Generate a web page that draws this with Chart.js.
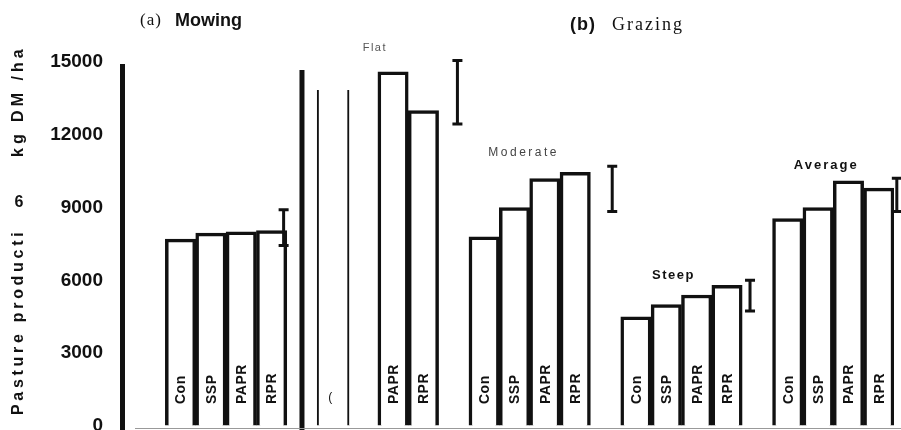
<!DOCTYPE html>
<html>
<head>
<meta charset="utf-8">
<script src="https://cdn.jsdelivr.net/npm/chart.js@4.4.1/dist/chart.umd.min.js"></script>
<style>
  html, body { margin: 0; padding: 0; background: #fff; }
  #wrap { width: 901px; height: 430px; position: relative; }
</style>
</head>
<body>
<div id="wrap"><canvas id="chart"></canvas></div>
<script>
const treatments = ['Con', 'SSP', 'PAPR', 'RPR'];
const groups = ['Mowing', 'Flat', 'Moderate', 'Steep', 'Average'];

const mowing = [7700, 7950, 8000, 8050];
const flat = [13850, 13850, 14600, 13000];
const moderate = [7800, 9000, 10200, 10450];
const steep = [4500, 5000, 5400, 5800];
const average = [8550, 9000, 10100, 9800];

// LSD bars, top and bottom value for each group
const lsdTop = [8950, 15100, 10750, 6050, 10250];
const lsdBottom = [7400, 12400, 8800, 4700, 8800];

const yTicks = [0, 3000, 6000, 9000, 12000, 15000];

// text written inside the bars (flat Con / SSP lost their labels in the print)
const barNames = [treatments, ['(', '', 'PAPR', 'RPR'], treatments, treatments, treatments];

const groupValues = [mowing, flat, moderate, steep, average];

const ink = '#111';
const sans = '"Liberation Sans", Arial, sans-serif';
const serif = '"Liberation Serif", "Times New Roman", serif';

// one empty slot in front of every group
const labels = [];
const values = [];
const barText = [];
groups.forEach((g, gi) => {
  labels.push('');
  values.push(null);
  barText.push('');
  treatments.forEach((t, ti) => {
    labels.push(t);
    values.push(groupValues[gi][ti]);
    barText.push(barNames[gi][ti]);
  });
});

// flat Con and SSP only show their sides
const sideOnly = { 6: { left: 2, right: 0, top: 0, bottom: 0 }, 7: { left: 2, right: 0, top: 0, bottom: 0 } };

const groupLabelStyle = [
  null,
  { font: '11px ' + sans, color: '#555', spacing: '1.5px', dx: -3, y: 48 },
  { font: '12px ' + sans, color: '#444', spacing: '2.5px', dx: -6, y: 153 },
  { font: 'bold 13px ' + sans, color: ink, spacing: '1.5px', dx: -8, y: 275 },
  { font: 'bold 13px ' + sans, color: ink, spacing: '2px', dx: -7, y: 165 }
];
const lsdDx = [12, 34, 37, 23, 18];

function text(ctx, str, x, y, font, opts) {
  opts = opts || {};
  ctx.save();
  ctx.font = font;
  ctx.fillStyle = opts.color || ink;
  ctx.letterSpacing = opts.spacing || '0px';
  ctx.textAlign = opts.align || 'left';
  ctx.textBaseline = opts.baseline || 'middle';
  ctx.translate(x, y);
  if (opts.rotate) ctx.rotate(opts.rotate);
  ctx.fillText(str, 0, 0);
  ctx.restore();
}

const decorations = {
  id: 'decorations',
  afterDatasetsDraw(chart) {
    const ctx = chart.ctx;
    const x = chart.scales.x;
    const y = chart.scales.y;
    const area = chart.chartArea;

    // axis lines of panel (a) and panel (b)
    ctx.save();
    ctx.fillStyle = ink;
    ctx.fillRect(area.left - 15, area.top + 2, 5, 430 - area.top);
    ctx.fillRect(x.getPixelForValue(5) - 2.5, area.top + 8, 5, 430 - area.top);
    ctx.strokeStyle = '#999';
    ctx.lineWidth = 1;
    ctx.beginPath();
    ctx.moveTo(area.left, 428.5);
    ctx.lineTo(chart.width, 428.5);
    ctx.stroke();
    ctx.restore();

    // LSD bars
    groups.forEach((g, gi) => {
      const rpr = gi * 5 + 4;
      const px = x.getPixelForValue(rpr) + lsdDx[gi];
      const top = y.getPixelForValue(lsdTop[gi]);
      const bot = y.getPixelForValue(lsdBottom[gi]);
      ctx.save();
      ctx.strokeStyle = ink;
      ctx.lineWidth = 3;
      ctx.beginPath();
      ctx.moveTo(px, top);
      ctx.lineTo(px, bot);
      ctx.moveTo(px - 5, top + 1);
      ctx.lineTo(px + 5, top + 1);
      ctx.moveTo(px - 5, bot - 1);
      ctx.lineTo(px + 5, bot - 1);
      ctx.stroke();
      ctx.restore();
    });

    // names inside the bars
    barText.forEach((t, i) => {
      if (!t) return;
      const bx = x.getPixelForValue(i);
      if (t === '(') {
        text(ctx, t, bx - 2, 398, '12px ' + sans, { align: 'center' });
        return;
      }
      text(ctx, t, bx + 1, 404, 'bold 14px ' + sans, { rotate: -Math.PI / 2, spacing: '0.5px' });
    });

    // group names
    groups.forEach((g, gi) => {
      const st = groupLabelStyle[gi];
      if (!st) return;
      const cx = (x.getPixelForValue(gi * 5 + 2) + x.getPixelForValue(gi * 5 + 3)) / 2;
      text(ctx, g, cx + st.dx, st.y, st.font, { color: st.color, spacing: st.spacing, align: 'center' });
    });

    // panel titles
    text(ctx, '(a)', 140, 21, '17px ' + serif, { spacing: '1px' });
    text(ctx, 'Mowing', 175, 21, 'bold 18px ' + sans);
    text(ctx, '(b)', 570, 25, 'bold 18px ' + sans, { spacing: '1px' });
    text(ctx, 'Grazing', 612, 25, '18px ' + serif, { spacing: '2px' });

    // y axis title, as printed
    text(ctx, 'Pasture producti', 19, 415, 'bold 16px ' + sans, { rotate: -Math.PI / 2, spacing: '3.7px' });
    text(ctx, '6', 19, 203, 'bold 16px ' + sans, { align: 'center' });
    text(ctx, 'kg DM /ha', 19, 157, 'bold 16px ' + sans, { rotate: -Math.PI / 2, spacing: '4px' });
  }
};

new Chart(document.getElementById('chart'), {
  type: 'bar',
  data: {
    labels: labels,
    datasets: [{
      data: values,
      backgroundColor: '#fff',
      borderColor: ink,
      borderWidth: ctx => sideOnly[ctx.dataIndex] || 3.5,
      barPercentage: 1,
      categoryPercentage: 1
    }]
  },
  options: {
    responsive: true,
    maintainAspectRatio: false,
    animation: false,
    devicePixelRatio: 1,
    layout: { padding: { top: 62, bottom: 4, right: 7, left: 0 } },
    plugins: { legend: { display: false }, tooltip: { enabled: false } },
    scales: {
      x: { display: false },
      y: {
        min: 0,
        max: 15000,
        afterFit: scale => { scale.width = 135; },
        afterBuildTicks: scale => { scale.ticks = yTicks.map(v => ({ value: v })); },
        // invisible tick marks push the labels away from the bars
        grid: { display: true, drawOnChartArea: false, drawTicks: true, tickLength: 32, color: 'rgba(0,0,0,0)' },
        border: { display: false },
        ticks: {
          padding: 0,
          color: ink,
          font: { family: sans, size: 19, weight: 'bold', lineHeight: 0.4 },
          callback: v => String(v)
        }
      }
    }
  },
  plugins: [decorations]
});
</script>
</body>
</html>
